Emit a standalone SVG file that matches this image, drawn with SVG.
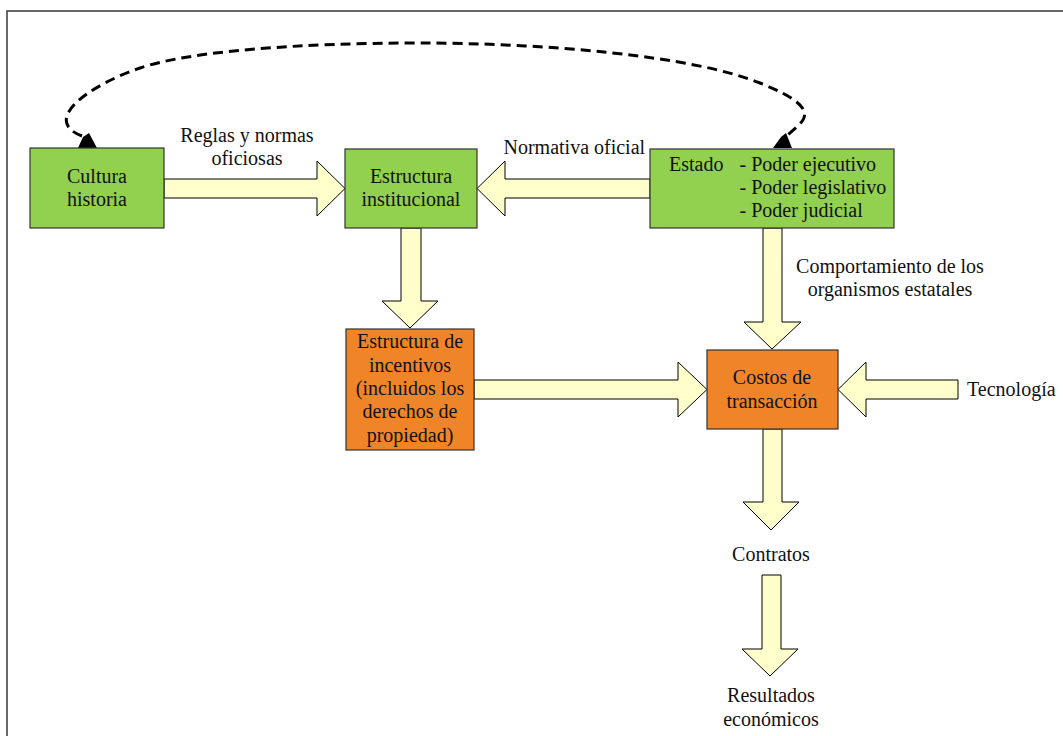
<svg xmlns="http://www.w3.org/2000/svg" width="1063" height="736" viewBox="0 0 1063 736">
<style>
.t{font-family:"Liberation Serif","Times New Roman",serif;font-size:20px;fill:#111}
.m{text-anchor:middle}
.box{stroke:#333;stroke-width:1.2}
.g{fill:#92D050}
.o{fill:#F08429}
.ar{fill:#FFFFCC;stroke:#000;stroke-width:1;stroke-linejoin:miter}
.dash{fill:none;stroke:#000;stroke-width:3;stroke-dasharray:10 6}
</style>
<rect x="0" y="0" width="1063" height="736" fill="#fff"/>
<rect x="7" y="11" width="1120" height="800" fill="none" stroke="#444" stroke-width="1.6"/>

<g id="connectors">
  <path class="dash" d="M 82 136 C 40 120, 90 85, 140 68 S 300 43, 420 43 S 690 55, 760 83 C 830 111, 800 122, 787 136"/>
  <polygon points="78,148 97,148 89,133 83,137" fill="#000"/>
  <polygon points="773,148 792,148 786,133 781,137" fill="#000"/>
  <polygon class="ar" points="164,179 317,179 317,161 345,188.5 317,216 317,198 164,198"/>
  <polygon class="ar" points="650,179 505,179 505,161 477,188.5 505,216 505,198 650,198"/>
  <polygon class="ar" points="401,228 421,228 421,301 438,301 410,328 382,301 401,301"/>
  <polygon class="ar" points="474,380 678,380 678,362 707,389.5 678,417 678,399 474,399"/>
  <polygon class="ar" points="763,228 782,228 782,322 801,322 772,349 744,322 763,322"/>
  <polygon class="ar" points="958,380 866,380 866,362 838,389.5 866,417 866,399 958,399"/>
  <polygon class="ar" points="763,429 782,429 782,502 799,502 771,530 743,502 763,502"/>
  <polygon class="ar" points="762,575 781,575 781,649 798,649 770,676 742,649 762,649"/>
  <text class="t m" x="247" y="142">Reglas y normas</text>
  <text class="t m" x="247" y="165">oficiosas</text>
  <text class="t" x="503.5" y="154">Normativa oficial</text>
  <text class="t m" x="890" y="273">Comportamiento de los</text>
  <text class="t m" x="890" y="296">organismos estatales</text>
</g>

<g id="cultura">
  <rect class="box g" x="30" y="148" width="134" height="80"/>
  <text class="t m" x="97" y="183">Cultura</text>
  <text class="t m" x="97" y="206">historia</text>
</g>
<g id="estructura-institucional">
  <rect class="box g" x="345" y="149" width="132" height="79"/>
  <text class="t m" x="411" y="183">Estructura</text>
  <text class="t m" x="411" y="206">institucional</text>
</g>
<g id="estado">
  <rect class="box g" x="650" y="149" width="244" height="79"/>
  <text class="t" x="669" y="171">Estado</text>
  <text class="t" x="739.5" y="171">- Poder ejecutivo</text>
  <text class="t" x="739.5" y="194">- Poder legislativo</text>
  <text class="t" x="739.5" y="217">- Poder judicial</text>
</g>
<g id="incentivos">
  <rect class="box o" x="346" y="329" width="128" height="121"/>
  <text class="t m" x="410" y="348">Estructura de</text>
  <text class="t m" x="410" y="371.5">incentivos</text>
  <text class="t m" x="410" y="395">(incluidos los</text>
  <text class="t m" x="410" y="418">derechos de</text>
  <text class="t m" x="410" y="441.5">propiedad)</text>
</g>
<g id="costos">
  <rect class="box o" x="707" y="350" width="131" height="79"/>
  <text class="t m" x="772" y="384">Costos de</text>
  <text class="t m" x="772" y="407.5">transacción</text>
</g>
<g id="tecnologia">
  <text class="t" x="967" y="396">Tecnología</text>
</g>
<g id="contratos">
  <text class="t m" x="771" y="561">Contratos</text>
</g>
<g id="resultados">
  <text class="t m" x="771" y="702">Resultados</text>
  <text class="t m" x="771" y="726">económicos</text>
</g>
</svg>
